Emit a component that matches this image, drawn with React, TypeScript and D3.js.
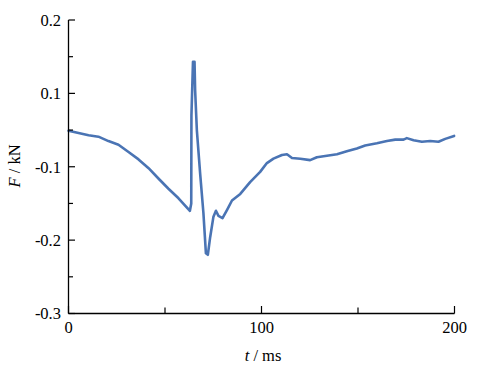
import React from "react";
import * as d3 from "d3";

const tValues = [0, 5.2, 10.4, 15.5, 20.7, 25.9, 31.1, 36.3, 41.5, 46.6, 51.8, 57.0, 62.2, 62.9, 63.6, 63.7, 64.5, 65.3, 65.6, 66.5, 68.2, 69.9, 71.2, 72.2, 73.4, 75.1, 76.4, 77.7, 79.8, 82.1, 84.7, 89.0, 94.1, 99.3, 102.8, 106.2, 110.6, 113.2, 115.8, 120.1, 125.2, 128.7, 133.9, 139.1, 144.2, 149.4, 153.7, 159.8, 165.0, 169.3, 173.6, 175.3, 178.8, 183.1, 187.4, 191.7, 195.2, 199.8];
const fValues = [-0.051, -0.054, -0.057, -0.059, -0.065, -0.070, -0.080, -0.090, -0.102, -0.116, -0.130, -0.143, -0.158, -0.160, -0.150, -0.030, 0.043, 0.043, 0.005, -0.050, -0.109, -0.163, -0.218, -0.220, -0.196, -0.168, -0.160, -0.167, -0.170, -0.159, -0.146, -0.137, -0.121, -0.107, -0.095, -0.089, -0.084, -0.083, -0.088, -0.089, -0.091, -0.087, -0.085, -0.083, -0.079, -0.075, -0.071, -0.068, -0.065, -0.063, -0.063, -0.061, -0.064, -0.066, -0.065, -0.066, -0.062, -0.058];

const xTicks = [0, 100, 200];
const xMinorTicks = [50, 150];
const yTicks = [0.1, 0, -0.1, -0.2, -0.3];
const yTickLabels = ["0.2", "0.1", "-0.1", "-0.2", "-0.3"];
const yMinorTicks = [0.05, -0.05, -0.15, -0.25];

export default function App() {
  const W = 485, H = 375;
  const left = 68.5, right = 454.5, top = 20, bottom = 313.5;
  const x = d3.scaleLinear().domain([0, 200]).range([left, right]);
  const y = d3.scaleLinear().domain([-0.3, 0.1]).range([bottom, top]);
  const data = tValues.map((t, i) => [t, fValues[i]] as [number, number]);
  const line = d3.line<[number, number]>().x(d => x(d[0])).y(d => y(d[1])).curve(d3.curveLinear);
  const font = "'Liberation Serif', 'Times New Roman', serif";
  return (
    <svg width={W} height={H} style={{ position: "absolute", left: 0, top: 0, background: "#fff" }} fontFamily={font}>
      <rect width={W} height={H} fill="#fff" />
      <path d={line(data) || ""} fill="none" stroke="#4a74b4" strokeWidth={2.6} strokeLinejoin="round" strokeLinecap="round" />
      <line x1={left} x2={left} y1={top} y2={bottom} stroke="#000" strokeWidth={1.3} />
      <line x1={left} x2={right} y1={bottom} y2={bottom} stroke="#000" strokeWidth={1.3} />
      {yTicks.map((v, i) => (
        <g key={"y" + i}>
          <line x1={left} x2={left + 6.5} y1={y(v)} y2={y(v)} stroke="#000" strokeWidth={1.2} />
          <text x={61} y={y(v)} dy="0.35em" textAnchor="end" fontSize={16.5} fill="#000">{yTickLabels[i]}</text>
        </g>
      ))}
      {yMinorTicks.map((v, i) => (
        <line key={"ym" + i} x1={left} x2={left + 4.5} y1={y(v)} y2={y(v)} stroke="#000" strokeWidth={1.2} />
      ))}
      {xTicks.map((v, i) => (
        <g key={"x" + i}>
          <line x1={x(v)} x2={x(v)} y1={bottom} y2={bottom - 7.5} stroke="#000" strokeWidth={1.2} />
          <text x={x(v)} y={333} textAnchor="middle" fontSize={16.5} fill="#000">{v}</text>
        </g>
      ))}
      {xMinorTicks.map((v, i) => (
        <line key={"xm" + i} x1={x(v)} x2={x(v)} y1={bottom} y2={bottom - 6} stroke="#000" strokeWidth={1.2} />
      ))}
      <text x={263} y={361} textAnchor="middle" fontSize={16.5} fill="#000">
        <tspan fontStyle="italic">t</tspan> / ms
      </text>
      <text transform="translate(20,166) rotate(-90)" textAnchor="middle" fontSize={16.5} fill="#000">
        <tspan fontStyle="italic">F</tspan> / kN
      </text>
    </svg>
  );
}
